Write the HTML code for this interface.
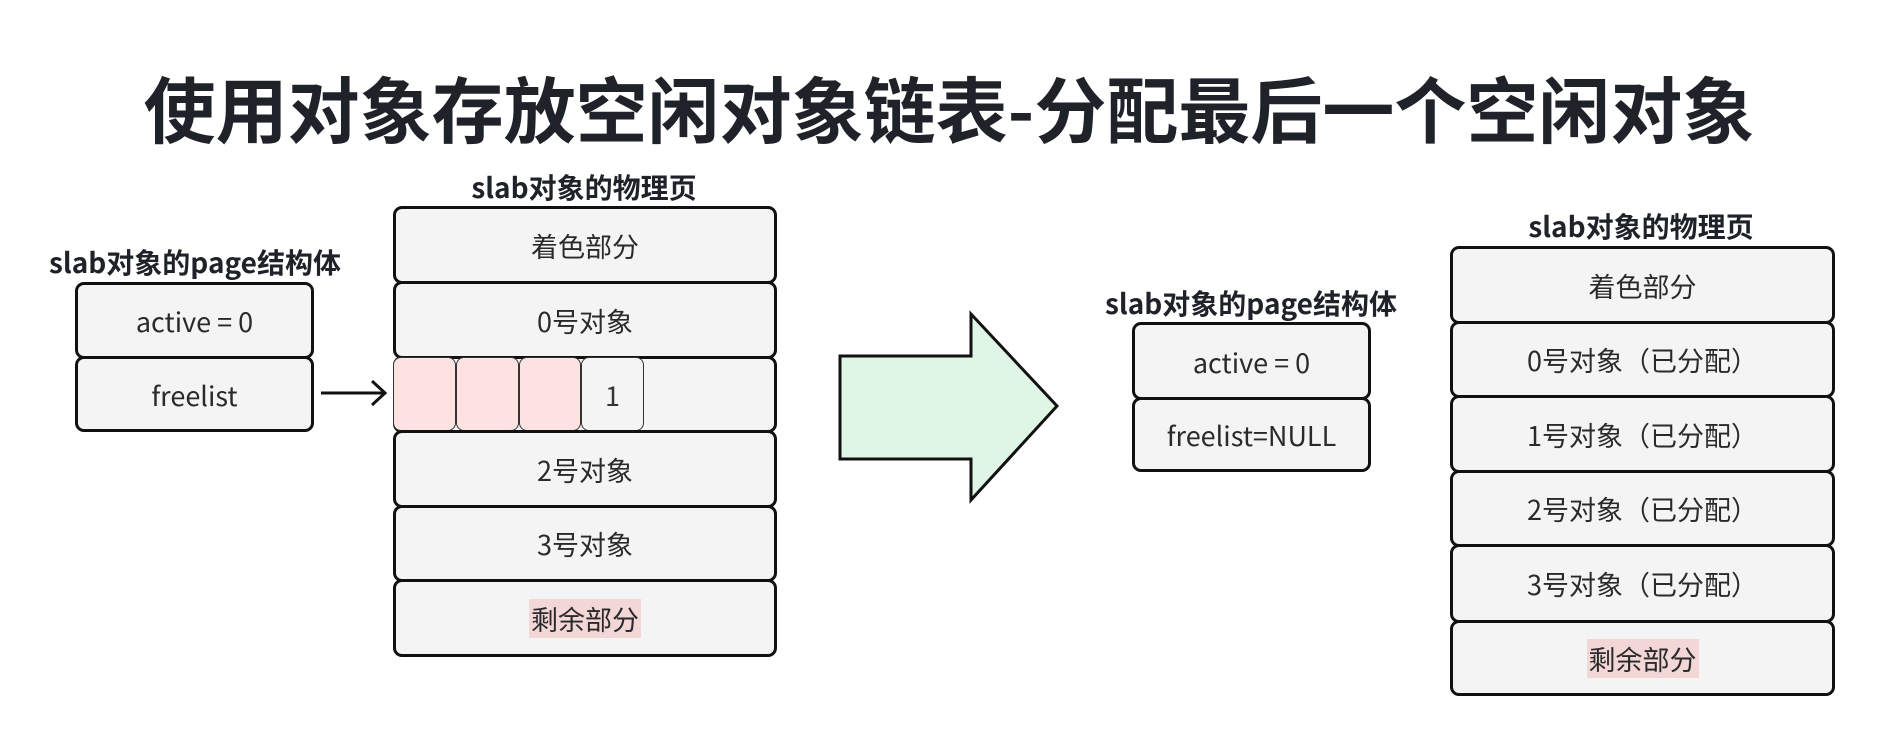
<!DOCTYPE html>
<html><head><meta charset="utf-8"><style>
body{margin:0;width:1884px;height:746px;background:#fff;position:relative;overflow:hidden;font-family:"Noto Sans CJK SC","Liberation Sans",sans-serif;}
.t{position:absolute;white-space:nowrap;transform:translate(-50%,-50%);}
.b{position:absolute;box-sizing:border-box;border:3px solid #111;border-radius:9px;background:#f4f4f4;display:flex;align-items:center;justify-content:center;font-size:27px;color:#2a2a2a;}
.h{font-weight:bold;font-size:28px;color:#1f2329;}
.c{position:absolute;box-sizing:border-box;border:1.5px solid #333;border-radius:8px;display:flex;align-items:center;justify-content:center;font-size:27px;color:#333;}
.p{background:#f3d6d6;padding:0 2px;}
</style></head><body>
<div class="t" style="left:949px;top:106px;font-size:72px;font-weight:bold;color:#1f2329;">使用对象存放空闲对象链表-分配最后一个空闲对象</div>

<div class="t h" style="left:195px;top:262px;">slab对象的page结构体</div>
<div class="b" style="left:75px;top:282px;width:239px;height:77px;">active = 0</div>
<div class="b" style="left:75px;top:356px;width:239px;height:76px;">freelist</div>
<svg style="position:absolute;left:0;top:0" width="1884" height="746">
<line x1="321" y1="393" x2="383" y2="393" stroke="#111" stroke-width="3"/>
<polyline points="372,381 385,393 372,405" fill="none" stroke="#111" stroke-width="3"/>
<polygon points="840,356 971,356 971,314 1057,406 971,500 971,459 840,459" fill="#dff5e5" stroke="#111" stroke-width="3" stroke-linejoin="miter"/>
</svg>

<div class="t h" style="left:584px;top:187px;">slab对象的物理页</div>
<div class="b" style="left:393px;top:206px;width:384px;height:78px;">着色部分</div>
<div class="b" style="left:393px;top:281px;width:384px;height:78px;">0号对象</div>
<div class="b" style="left:393px;top:356px;width:384px;height:77px;"></div>
<div class="c" style="left:393px;top:357px;width:63px;height:74px;background:#fde2e2;"></div>
<div class="c" style="left:456px;top:357px;width:63px;height:74px;background:#fde2e2;"></div>
<div class="c" style="left:519px;top:357px;width:62px;height:74px;background:#fde2e2;"></div>
<div class="c" style="left:581px;top:357px;width:63px;height:74px;background:#f4f4f4;">1</div>
<div class="b" style="left:393px;top:430px;width:384px;height:78px;">2号对象</div>
<div class="b" style="left:393px;top:505px;width:384px;height:77px;">3号对象</div>
<div class="b" style="left:393px;top:579px;width:384px;height:78px;"><span class="p">剩余部分</span></div>

<div class="t h" style="left:1251px;top:303px;">slab对象的page结构体</div>
<div class="b" style="left:1132px;top:322px;width:239px;height:78px;">active = 0</div>
<div class="b" style="left:1132px;top:397px;width:239px;height:75px;">freelist=NULL</div>

<div class="t h" style="left:1641px;top:226px;">slab对象的物理页</div>
<div class="b" style="left:1450px;top:246px;width:385px;height:78px;">着色部分</div>
<div class="b" style="left:1450px;top:321px;width:385px;height:77px;">0号对象（已分配）</div>
<div class="b" style="left:1450px;top:395px;width:385px;height:78px;">1号对象（已分配）</div>
<div class="b" style="left:1450px;top:470px;width:385px;height:77px;">2号对象（已分配）</div>
<div class="b" style="left:1450px;top:544px;width:385px;height:79px;">3号对象（已分配）</div>
<div class="b" style="left:1450px;top:620px;width:385px;height:76px;"><span class="p">剩余部分</span></div>
</body></html>
